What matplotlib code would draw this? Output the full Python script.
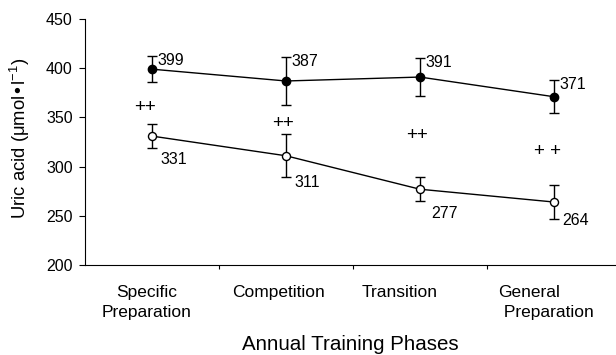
import matplotlib
matplotlib.use("Agg")
import matplotlib.pyplot as plt
from matplotlib.transforms import ScaledTranslation
import numpy as np

plt.rcParams['font.family'] = ['Liberation Sans', 'DejaVu Sans']

phases = ["Specific\nPreparation", "Competition", "Transition", "General\n Preparation"]
group_a = [399, 387, 391, 371]          # filled circles
group_a_err = [13, 24, 19, 17]
group_b = [331, 311, 277, 264]          # open circles
group_b_err = [12, 22, 12, 17]
sig_labels = ["++", "++", "++", "+ +"]
sig_y = [360, 344, 332, 315]

fig = plt.figure(figsize=(6.16, 3.55), dpi=100)
ax = fig.add_axes([0.138, 0.2535, 0.862, 0.693])

x = np.arange(len(phases)) + 0.5

ax.errorbar(x, group_a, yerr=group_a_err, fmt='-o', color='black', mfc='black',
            mec='black', ms=6, lw=1, elinewidth=1, capsize=3.6, capthick=1, zorder=3)
ax.errorbar(x, group_b, yerr=group_b_err, fmt='-o', color='black', mfc='white',
            mec='black', ms=5.8, mew=1, lw=1, elinewidth=1, capsize=3.6, capthick=1, zorder=3)

fs = 11.5
for xi, v, e in zip(x, group_a, group_a_err):
    ax.annotate(str(v), (xi, v + e), xytext=(4, -3), textcoords='offset points',
                ha='left', va='center', fontsize=fs)
b_offsets = [(6, -8), (6, -4), (8, -9), (6, -1)]
for xi, v, e, off in zip(x, group_b, group_b_err, b_offsets):
    ax.annotate(str(v), (xi, v - e), xytext=off, textcoords='offset points',
                ha='left', va='center', fontsize=fs)
sig_dx = [-5, -2, -2, -5]
for xi, yv, s, dx in zip(x, sig_y, sig_labels, sig_dx):
    ax.annotate(s, (xi, yv), xytext=(dx, 0), textcoords='offset points',
                ha='center', va='center', fontsize=13.5)

ax.set_xlim(0, 3.963)
ax.set_ylim(200, 450)
ax.set_yticks([200, 250, 300, 350, 400, 450])
ax.tick_params(axis='y', labelsize=11.5, length=4.3, width=0.8, direction='out', pad=4.5)

ax.set_xticks(x)
ax.set_xticklabels(phases, fontsize=12.5, linespacing=1.4)
ax.tick_params(axis='x', length=0, pad=14.5)
ax.set_xticks([1, 2, 3], minor=True)
ax.tick_params(axis='x', which='minor', length=3, width=0.8, direction='out')

label_dx = [-5, -7, -20, -8]
for lbl, dx in zip(ax.get_xticklabels(), label_dx):
    lbl.set_transform(lbl.get_transform() + ScaledTranslation(dx / 100, 0, fig.dpi_scale_trans))
ax.get_xticklabels()[-1].set_multialignment('left')

ax.spines['top'].set_visible(False)
ax.spines['right'].set_visible(False)
ax.spines['left'].set_linewidth(0.8)
ax.spines['bottom'].set_linewidth(0.8)

ax.set_ylabel("Uric acid (μmol•l$^{\\mathregular{-1}}$)", fontsize=13.3)
ax.yaxis.set_label_coords(-0.1, 0.515)
ax.set_xlabel("Annual Training Phases", fontsize=14.8, labelpad=11)

fig.savefig("out.png", dpi=100)
